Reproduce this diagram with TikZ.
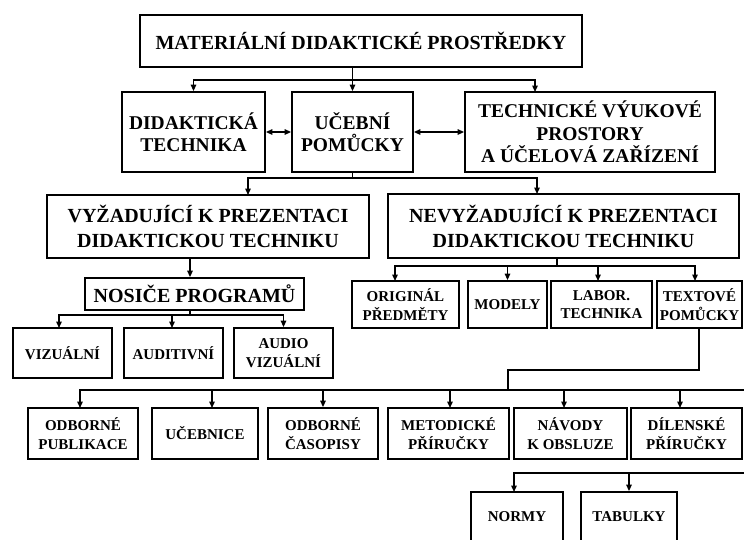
\documentclass[tikz,border=0pt]{standalone}
\usepackage{fontspec}
\setmainfont{Liberation Serif}
\usetikzlibrary{arrows.meta,calc}
\begin{document}
\begin{tikzpicture}[x=1pt,y=-1pt,
  box/.style={draw, line width=1.8pt, align=center, inner sep=0pt},
  fbig/.style={font=\fontsize{20}{25}\selectfont\bfseries},
  fmid/.style={font=\fontsize{19.5}{22.5}\selectfont\bfseries},
  fsmall/.style={font=\fontsize{15}{18.5}\selectfont\bfseries},
  con/.style={line width=1.4pt},
  arr/.style={line width=1.4pt, -{Triangle[length=6.5pt,width=5.5pt]}},
  darr/.style={line width=1.4pt, {Triangle[length=6.5pt,width=5.5pt]}-{Triangle[length=6.5pt,width=5.5pt]}}]
\useasboundingbox (0,0) rectangle (744,539);
\clip (0,0) rectangle (744,539);
\fill[white] (0,0) rectangle (744,539);

% nodes
\node[box,fbig,minimum width=442pt,minimum height=52pt] (title) at (361,41) {MATERIÁLNÍ DIDAKTICKÉ PROSTŘEDKY};
\node[box,fmid,minimum width=143pt,minimum height=80pt] (didakt) at (193.5,132) {DIDAKTICKÁ\\TECHNIKA};
\node[box,fmid,minimum width=121pt,minimum height=80pt] (ucebni) at (352.5,132) {UČEBNÍ\\POMŮCKY};
\node[box,fmid,minimum width=250pt,minimum height=80pt] (tech) at (590,132) {TECHNICKÉ VÝUKOVÉ\\PROSTORY\\A ÚČELOVÁ ZAŘÍZENÍ};
\node[box,fbig,minimum width=322pt,minimum height=63pt] (vyz) at (208,226.5) {VYŽADUJÍCÍ K PREZENTACI\\DIDAKTICKOU TECHNIKU};
\node[box,fbig,minimum width=351pt,minimum height=64pt] (nevyz) at (563.5,226) {NEVYŽADUJÍCÍ K PREZENTACI\\DIDAKTICKOU TECHNIKU};
\node[box,fbig,minimum width=219pt,minimum height=32pt] (nosice) at (194.5,294) {NOSIČE PROGRAMŮ};
\node[box,fsmall,minimum width=99pt,minimum height=50pt] (vizual) at (62.5,353) {VIZUÁLNÍ};
\node[box,fsmall,minimum width=99pt,minimum height=50pt] (audit) at (173.5,353) {AUDITIVNÍ};
\node[box,fsmall,minimum width=99pt,minimum height=50pt] (audvis) at (283.5,353) {AUDIO\\VIZUÁLNÍ};
\node[box,fsmall,minimum width=107pt,minimum height=47pt] (orig) at (405.5,304.5) {ORIGINÁL\\PŘEDMĚTY};
\node[box,fsmall,minimum width=79pt,minimum height=47pt] (modely) at (507.5,304.5) {MODELY};
\node[box,fsmall,minimum width=101pt,minimum height=47pt] (labor) at (601.5,304.5) {LABOR.\\TECHNIKA};
\node[box,fsmall,minimum width=85pt,minimum height=47pt] (textove) at (699.5,304.5) {TEXTOVÉ\\POMŮCKY};
\node[box,fsmall,minimum width=110pt,minimum height=51pt] (odbpub) at (83,433.5) {ODBORNÉ\\PUBLIKACE};
\node[box,fsmall,minimum width=106pt,minimum height=51pt] (ucebnice) at (205,433.5) {UČEBNICE};
\node[box,fsmall,minimum width=110pt,minimum height=51pt] (odbcas) at (323,433.5) {ODBORNÉ\\ČASOPISY};
\node[box,fsmall,minimum width=121pt,minimum height=51pt] (metod) at (448.5,433.5) {METODICKÉ\\PŘÍRUČKY};
\node[box,fsmall,minimum width=113pt,minimum height=51pt] (navody) at (570.5,433.5) {NÁVODY\\K OBSLUZE};
\node[box,fsmall,minimum width=111pt,minimum height=51pt] (dilen) at (686.5,433.5) {DÍLENSKÉ\\PŘÍRUČKY};
\node[box,fsmall,minimum width=92pt,minimum height=50pt] (normy) at (517,517) {NORMY};
\node[box,fsmall,minimum width=96pt,minimum height=50pt] (tabulky) at (629,517) {TABULKY};

% junction coordinates
\coordinate (b1) at (352.5,80);
\coordinate (t1) at (535,92);
\coordinate (b2) at (352.5,178);
\coordinate (v1) at (248,195);
\coordinate (n1) at (537,194);
\coordinate (b3) at (190,315);
\coordinate (a1) at (59,328);
\coordinate (a2) at (172,328);
\coordinate (b4) at (557,266);
\coordinate (o1) at (395,281);
\coordinate (l1) at (598,281);
\coordinate (x1) at (695,281);
\coordinate (s1) at (699,370);
\coordinate (s2) at (508,370);
\coordinate (b5) at (508,390);
\coordinate (r5) at (745,390);
\coordinate (p1) at (80,408);
\coordinate (u1) at (212,408);
\coordinate (m1) at (450,408);
\coordinate (k1) at (564,408);
\coordinate (d1) at (680,408);
\coordinate (r6) at (745,473);
\coordinate (q1) at (514,492);

% level 1
\draw[con] (title.south -| b1) -- (b1);
\draw[arr] (b1) -| (didakt.north);
\draw[arr] (b1) -- (ucebni.north);
\draw[arr] (b1) -| (t1);
\draw[darr] (didakt.east) -- (ucebni.west);
\draw[darr] (ucebni.east) -- (tech.west);

% level 2
\draw[con] (ucebni.south) -- (b2);
\draw[arr] (b2) -| (v1);
\draw[arr] (b2) -| (n1);

% left branch
\draw[arr] (vyz.south -| b3) -- (nosice.north -| b3);
\draw[con] (nosice.south -| b3) -- (b3);
\draw[arr] (b3) -| (a1);
\draw[arr] (b3) -| (a2);
\draw[arr] (b3) -| (audvis.north);

% right branch
\draw[con] (nevyz.south -| b4) -- (b4);
\draw[arr] (b4) -| (o1);
\draw[arr] (b4) -| (modely.north);
\draw[arr] (b4) -| (l1);
\draw[arr] (b4) -| (x1);

% textove
\draw[con] (textove.south -| s1) -- (s1) -- (s2) -- (b5);
\draw[con] (b5) -- (r5);
\draw[arr] (b5) -| (p1);
\draw[arr] (b5) -| (u1);
\draw[arr] (b5) -| (odbcas.north);
\draw[arr] (b5) -| (m1);
\draw[arr] (b5) -| (k1);
\draw[arr] (b5) -| (d1);

% bottom
\draw[arr] (r6) -| (q1);
\draw[arr] (r6) -| (tabulky.north);
\end{tikzpicture}
\end{document}
